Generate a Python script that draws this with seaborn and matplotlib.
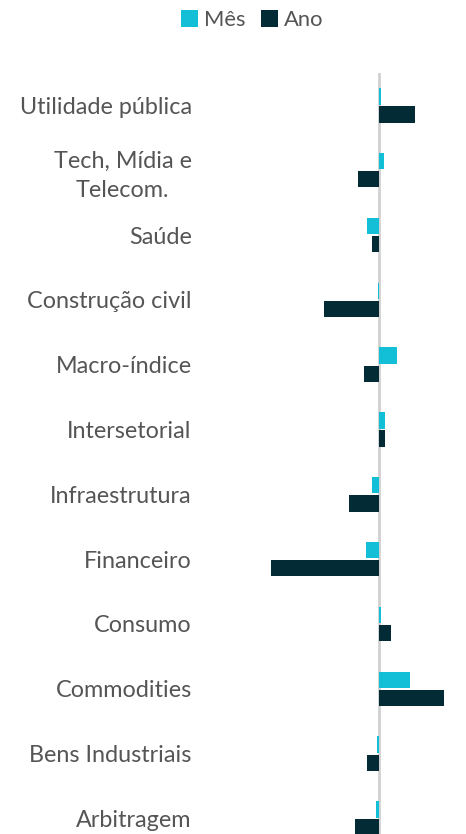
import matplotlib
matplotlib.use("Agg")
import matplotlib.pyplot as plt
import seaborn as sns
import pandas as pd

categories = ["Utilidade pública", "Tech, Mídia e\nTelecom.", "Saúde", "Construção civil",
              "Macro-índice", "Intersetorial", "Infraestrutura", "Financeiro", "Consumo",
              "Commodities", "Bens Industriais", "Arbitragem"]
mes = [0.10, 0.25, -0.60, -0.05, 0.90, 0.30, -0.35, -0.65, 0.10, 1.55, -0.08, -0.15]
ano = [1.80, -1.05, -0.35, -2.75, -0.75, 0.28, -1.50, -5.40, 0.62, 3.25, -0.60, -1.20]
series = ["Mês", "Ano"]
colors = ["#13BFD6", "#032B36"]

df = pd.DataFrame({
    "cat": categories * 2,
    "val": mes + ano,
    "serie": [series[0]] * len(categories) + [series[1]] * len(categories),
})

sns.set_style("white")
plt.rcParams["font.family"] = ["Lato", "DejaVu Sans"]

fig = plt.figure(figsize=(4.66, 8.34), dpi=100)
ax = fig.add_axes([200 / 466, 0, 260 / 466, (834 - 73) / 834])

sns.barplot(data=df, y="cat", x="val", hue="serie", order=categories,
            hue_order=series, palette=colors, orient="h", width=0.56, gap=0.1,
            ax=ax, legend=False, saturation=1, edgecolor="none")

ax.axvline(0, color="#d0d0d0", lw=2, zorder=0)
ax.set_xlim((200 - 379) / 20, (460 - 379) / 20)
ax.set_ylim(11.24, -0.5)
ax.set_xticks([])
ax.set_xlabel("")
ax.set_ylabel("")
for s in ax.spines.values():
    s.set_visible(False)
ax.tick_params(axis="y", length=0, pad=6, labelsize=16.8, labelcolor="#555555")
for lab in ax.get_yticklabels():
    lab.set_multialignment("center")
    lab.set_linespacing(1.45)

from matplotlib.patches import Patch
handles = [Patch(facecolor=c, edgecolor="none") for c in colors]
fig.legend(handles, series, loc="center", bbox_to_anchor=(252 / 466, 1 - 20 / 834),
           ncol=2, frameon=False, fontsize=15.8, labelcolor="#555555",
           handlelength=0.8, handleheight=0.8, handletextpad=0.25, columnspacing=0.7)

fig.savefig("out.png", dpi=100, facecolor="white")
